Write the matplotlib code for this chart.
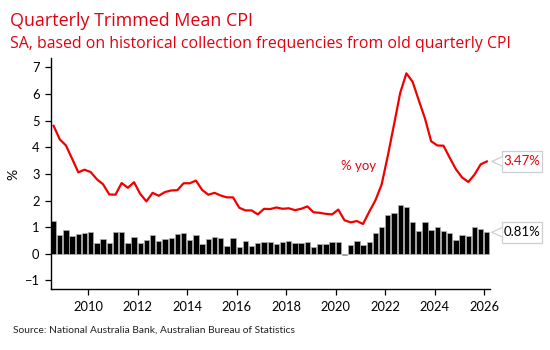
## Quarterly Trimmed Mean CPI - % yoy line and % q/q bars ##
import numpy as np
import pandas as pd
import matplotlib
matplotlib.use('Agg')
import matplotlib.pyplot as plt
import matplotlib.transforms as mtransforms
from matplotlib.patches import Rectangle, Polygon

## Data ##
quarters = pd.period_range('2008Q2', '2025Q4', freq='Q')

yoy = [4.81, 4.30, 4.07, 3.57, 3.06, 3.16, 3.07, 2.80, 2.61, 2.23,
       2.22, 2.66, 2.48, 2.69, 2.25, 1.97, 2.29, 2.18, 2.32, 2.38,
       2.39, 2.65, 2.65, 2.75, 2.40, 2.22, 2.29, 2.19, 2.12, 2.12,
       1.73, 1.63, 1.63, 1.48, 1.69, 1.68, 1.74, 1.69, 1.71, 1.64,
       1.69, 1.78, 1.56, 1.54, 1.50, 1.48, 1.66, 1.26, 1.18, 1.23,
       1.12, 1.58, 2.01, 2.60, 3.68, 4.85, 6.04, 6.78, 6.47, 5.77,
       5.09, 4.23, 4.07, 4.06, 3.61, 3.18, 2.87, 2.70, 2.97, 3.36, 3.47]

qoq = [1.23, 0.69, 0.89, 0.65, 0.74, 0.79, 0.82, 0.39, 0.55, 0.42,
       0.83, 0.81, 0.39, 0.63, 0.39, 0.52, 0.71, 0.49, 0.54, 0.59,
       0.73, 0.77, 0.53, 0.69, 0.37, 0.57, 0.62, 0.59, 0.29, 0.58,
       0.24, 0.48, 0.30, 0.40, 0.45, 0.45, 0.35, 0.45, 0.48, 0.40,
       0.42, 0.44, 0.27, 0.37, 0.38, 0.43, 0.45, -0.05, 0.32, 0.48,
       0.33, 0.45, 0.77, 1.02, 1.47, 1.52, 1.85, 1.74, 1.18, 0.86,
       1.20, 0.88, 1.02, 0.87, 0.77, 0.52, 0.69, 0.66, 1.00, 0.92, 0.81]

yoy_label = '3.47%'
qoq_label = '0.81%'

# quarter -> decimal year (plotted around the release month)
x = np.array([p.year + p.quarter / 4 + 0.1 for p in quarters])

RED = '#e3000f'
LINE_RED = '#f20000'
plt.rcParams['font.family'] = ['Lato', 'DejaVu Sans']

## Figure ##
fig = plt.figure(figsize=(5.5, 3.5), dpi=100, facecolor='white')
ax = fig.add_axes([0.092, 0.173, 0.799, 0.66])

ax.bar(x, qoq, width=0.215, color='black', edgecolor='#b0b0b0', linewidth=0.5, zorder=2)
ax.plot(x, yoy, color=LINE_RED, linewidth=1.6, zorder=3)

ax.set_xlim(2008.48, 2026.23)
ax.set_ylim(-1.34, 7.34)
ax.set_xticks(range(2010, 2027, 2))
ax.set_yticks(range(-1, 8))
ax.tick_params(axis='both', labelsize=9.3, length=4.5, width=0.9, colors='black')
for s in ['top', 'right']:
    ax.spines[s].set_visible(False)
for s in ['left', 'bottom']:
    ax.spines[s].set_linewidth(1.0)
ax.set_ylabel('%', fontsize=10, labelpad=4)

ax.text(2020.2, 3.3, '% yoy', color=RED, fontsize=9.5, ha='left', va='center')

## Titles ##
fig.text(0.018, 0.925, 'Quarterly Trimmed Mean CPI', color=RED, fontsize=12.9,
         family=['Open Sans', 'DejaVu Sans'], weight=500, ha='left', va='baseline')
fig.text(0.018, 0.862, 'SA, based on historical collection frequencies from old quarterly CPI',
         color=RED, fontsize=11.4, family=['Open Sans', 'DejaVu Sans'], weight=500,
         ha='left', va='baseline')
fig.text(0.024, 0.057, 'Source: National Australia Bank, Australian Bureau of Statistics',
         color='#222222', fontsize=7.4, ha='left', va='center')

## Callouts on the last values ##
ident = mtransforms.IdentityTransform()


def callout(xv, yv, text, color):
    px, py = ax.transData.transform((xv, yv))
    tip = px + 5
    left, w, h = px + 15, 40, 21
    fig.patches.append(Rectangle((left, py - h / 2), w, h, transform=ident,
                                 facecolor='white', edgecolor='#cfcfcf', linewidth=0.9, zorder=5))
    fig.patches.append(Polygon([(tip, py), (left + 0.6, py + 4.5), (left + 0.6, py - 4.5)],
                               closed=True, transform=ident, facecolor='white',
                               edgecolor='none', zorder=6))
    fig.lines.append(plt.Line2D([left, tip, left], [py + 4.5, py, py - 4.5], transform=ident,
                                color='#cfcfcf', linewidth=0.9, zorder=7))
    fig.text(left + w / 2, py, text, transform=ident, color=color, fontsize=9.5,
             ha='center', va='center', zorder=8)


callout(x[-1], yoy[-1], yoy_label, RED)
callout(x[-1], qoq[-1], qoq_label, 'black')

fig.savefig('out.png', dpi=100)
